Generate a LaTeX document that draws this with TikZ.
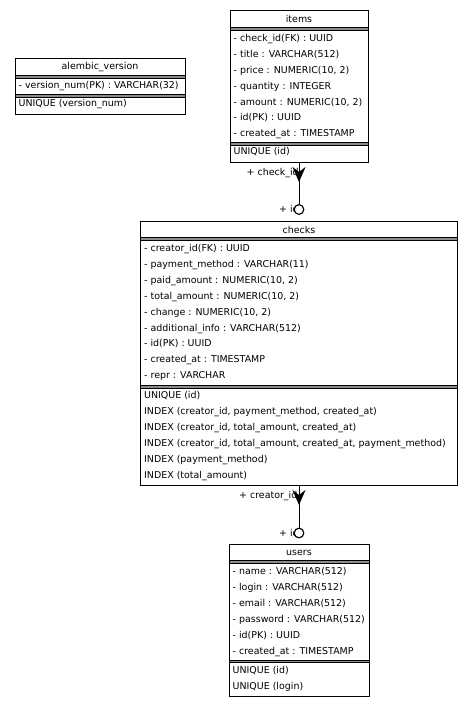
\documentclass[tikz,border=0pt]{standalone}
\usepackage{fontspec}
\setmainfont{DejaVu Sans}
\usetikzlibrary{arrows.meta, positioning}

\begin{document}
\begin{tikzpicture}[x=1pt, y=-1pt, font=\fontsize{9.45}{11}\selectfont,
    tbl/.style={draw, rectangle, line width=1pt, inner sep=0pt},
    sep/.style={draw, line width=0.6pt, fill=black!45},
    title/.style={inner sep=0pt, anchor=base},
    row/.style={inner sep=0pt, anchor=base west},
    lbl/.style={inner sep=0pt, anchor=base west},
    link/.style={line width=1pt},
    crow/.style={-{Stealth[length=15pt, width=13pt, inset=5pt]}, line width=1pt},
    opt/.style={circle, draw, fill=white, line width=1pt, minimum size=9.5pt, inner sep=0pt}]

\useasboundingbox (0,0) rectangle (474,707);

% alembic_version
\node[tbl, minimum width=170pt, minimum height=55.5pt] (alembic) at (100,86.25) {};
\node[title] (alembic-t) at (100,69.6) {alembic\_version};
\draw[sep] (15,75.3) rectangle (185,77.8);
\node[row] (alembic-r1) at (18.5,88.3) {- version\_num(PK) : VARCHAR(32)};
\draw[sep] (15,94.3) rectangle (185,96.8);
\node[row] (alembic-u1) at (18.5,106.5) {UNIQUE (version\_num)};

% items
\node[tbl, minimum width=138pt, minimum height=152pt] (items) at (299,86) {};
\node[title] (items-t) at (299,22.6) {items};
\draw[sep] (230,27.5) rectangle (368,30);
\foreach \t [count=\i] in {- check\_id(FK) : UUID, - title : VARCHAR(512), {- price : NUMERIC(10, 2)},
    - quantity : INTEGER, {- amount : NUMERIC(10, 2)}, - id(PK) : UUID, - created\_at : TIMESTAMP}
  \node[row] (items-r\i) at (233.5,{25.75+15.85*\i}) {\t};
\draw[sep] (230,142.5) rectangle (368,145);
\node[row] (items-u1) at (233.5,154.3) {UNIQUE (id)};

% checks
\node[tbl, minimum width=317pt, minimum height=264pt] (checks) at (299,353) {};
\node[title] (checks-t) at (299,233.3) {checks};
\draw[sep] (140.5,237.7) rectangle (457.5,240.2);
\foreach \t [count=\i] in {- creator\_id(FK) : UUID, - payment\_method : VARCHAR(11),
    {- paid\_amount : NUMERIC(10, 2)}, {- total\_amount : NUMERIC(10, 2)}, {- change : NUMERIC(10, 2)},
    - additional\_info : VARCHAR(512), - id(PK) : UUID, - created\_at : TIMESTAMP, - repr : VARCHAR}
  \node[row] (checks-r\i) at (144,{235.6+15.9*\i}) {\t};
\draw[sep] (140.5,385.7) rectangle (457.5,388.2);
\foreach \t [count=\i] in {UNIQUE (id), {INDEX (creator\_id, payment\_method, created\_at)},
    {INDEX (creator\_id, total\_amount, created\_at)},
    {INDEX (creator\_id, total\_amount, created\_at, payment\_method)},
    INDEX (payment\_method), INDEX (total\_amount)}
  \node[row] (checks-u\i) at (144,{382.2+16.1*\i}) {\t};

% users
\node[tbl, minimum width=140pt, minimum height=151.5pt] (users) at (299,620.25) {};
\node[title] (users-t) at (299,555.8) {users};
\draw[sep] (229,560.7) rectangle (369,563.2);
\foreach \t [count=\i] in {- name : VARCHAR(512), - login : VARCHAR(512), - email : VARCHAR(512),
    - password : VARCHAR(512), - id(PK) : UUID, - created\_at : TIMESTAMP}
  \node[row] (users-r\i) at (232.5,{558.3+16*\i}) {\t};
\draw[sep] (229,660.2) rectangle (369,662.7);
\node[row] (users-u1) at (232.5,673.3) {UNIQUE (id)};
\node[row] (users-u2) at (232.5,689.3) {UNIQUE (login)};

% links
\node[opt] (items-o) at (299,209.5) {};
\node[opt] (checks-o) at (299,533) {};
\draw[link] (items.south) -- (items-o.north);
\draw[link] (checks.south) -- (checks-o.north);
\node[lbl] (items-fk) at (246.5,175.5) {+ check\_id};
\node[lbl] (items-pk) at (279,212.8) {+ id};
\node[lbl] (checks-fk) at (239,498.6) {+ creator\_id};
\node[lbl] (checks-pk) at (279,536.3) {+ id};
\draw[crow] (items.south) -- ++(0,19.5);
\draw[crow] (checks.south) -- ++(0,19.5);
\node[opt] at (items-o) {};
\node[opt] at (checks-o) {};
\end{tikzpicture}
\end{document}
